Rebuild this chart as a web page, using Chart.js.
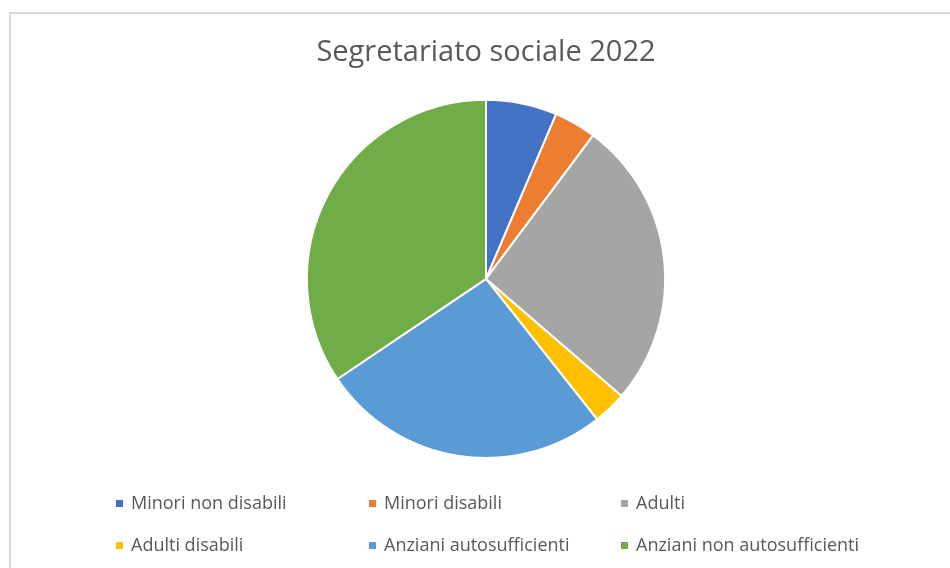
<!DOCTYPE html>
<html>
<head>
<meta charset="utf-8">
<script src="https://cdn.jsdelivr.net/npm/chart.js@4/dist/chart.umd.min.js"></script>
<style>
  body { margin: 0; background: #fff; overflow: hidden; }
  #wrap { position: relative; width: 950px; height: 568px; }
  #frame { position: absolute; left: 9px; top: 12px; width: 960px; height: 600px; border: 2px solid #d9d9d9; box-sizing: border-box; }
  #pie-chart { position: absolute; left: 0; top: 0; }
</style>
</head>
<body>
<div id="wrap">
  <div id="frame"></div>
  <canvas id="pie-chart" width="950" height="568"></canvas>
</div>
<script>
// categories and values (share of users)
const categories = ['Minori non disabili', 'Minori disabili', 'Adulti', 'Adulti disabili', 'Anziani autosufficienti', 'Anziani non autosufficienti'];
const values = [6.4, 3.8, 26.1, 3.0, 26.2, 34.4];
const colors = ['#4472C4', '#ED7D31', '#A5A5A5', '#FFC000', '#5B9BD5', '#70AD47'];

// legend drawn like the office one: 3 columns, 2 rows
const legendGrid = {
    id: 'legendGrid',
    afterDraw(chart) {
        const ctx = chart.ctx;
        const colX = [116, 369, 621];
        const rowY = [503, 545];
        ctx.save();
        ctx.font = '18px "Open Sans", sans-serif';
        ctx.textBaseline = 'middle';
        categories.forEach((label, i) => {
            const x = colX[i % 3];
            const y = rowY[Math.floor(i / 3)];
            ctx.fillStyle = colors[i];
            ctx.fillRect(x, y - 3, 7, 7);
            ctx.fillStyle = '#595959';
            ctx.fillText(label, x + 15, y + 1);
        });
        ctx.restore();
    }
};

new Chart(document.querySelector('#pie-chart').getContext('2d'), {
    type: 'pie',
    data: {
        labels: categories,
        datasets: [{
            data: values,
            backgroundColor: colors,
            borderColor: '#ffffff',
            borderWidth: 2
        }]
    },
    options: {
        responsive: false,
        animation: false,
        layout: { padding: { top: 0, bottom: 109, left: 22, right: 0 } },
        plugins: {
            legend: { display: false },
            tooltip: { enabled: false },
            title: {
                display: true,
                text: 'Segretariato sociale 2022',
                color: '#595959',
                font: { family: '"Open Sans", sans-serif', size: 29, weight: 'normal' },
                padding: { top: 35, bottom: 29 }
            }
        }
    },
    plugins: [legendGrid]
});
</script>
</body>
</html>
